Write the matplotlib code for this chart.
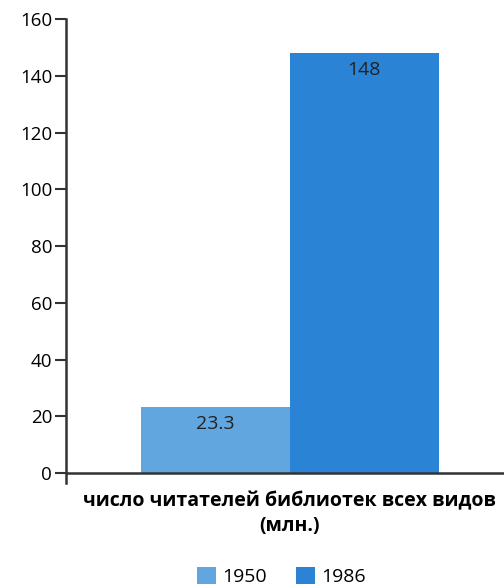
import matplotlib.pyplot as plt

plt.rcParams['font.family'] = ['Open Sans', 'DejaVu Sans']

category = "число читателей библиотек всех видов\n(млн.)"
years = ["1950", "1986"]
values = [23.3, 148]
colors = ["#62a6e0", "#2b83d5"]

fig = plt.figure(figsize=(5.04, 5.88), dpi=100)
ax = fig.add_axes([0.131, 0.1786, 0.869, 0.789])

width = 0.34
offsets = [-width / 2, width / 2]
for yr, v, c, off in zip(years, values, colors, offsets):
    b = ax.bar(off, v, width=width, color=c, label=yr)
    ax.bar_label(b, labels=[f"{v:g}"], padding=-19, fontsize=14, color="#222222")

ax.set_xlim(-0.511, 0.489)
ax.set_ylim(-3.5, 160)
ax.set_yticks(range(0, 161, 20))
ax.spines[['top', 'right', 'bottom']].set_visible(False)
ax.spines['left'].set_color("#333333")
ax.spines['left'].set_linewidth(1.8)
ax.axhline(0, color="#333333", linewidth=1.8, zorder=3)
ax.tick_params(axis='y', length=8, width=1.5, color="#333333", labelsize=13.5, pad=2)
ax.set_xticks([0])
ax.set_xticklabels([category], fontsize=14, fontweight='bold', linespacing=1.3)
ax.tick_params(axis='x', length=0, pad=6)

fig.legend(loc='center', bbox_to_anchor=(0.558, 0.02), ncol=2, frameon=False,
           fontsize=14, handlelength=1.0, handleheight=1.0, handletextpad=0.3,
           columnspacing=1.5)

fig.savefig("out.png", dpi=100)
